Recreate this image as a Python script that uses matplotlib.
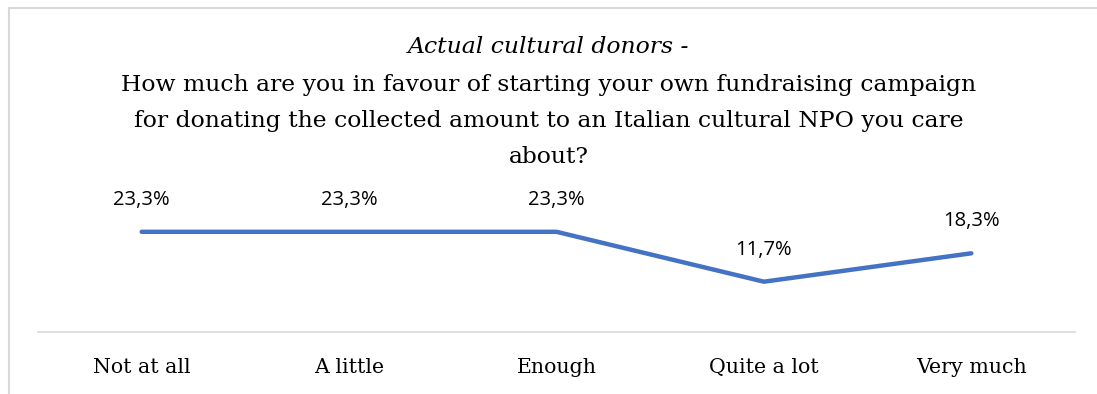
import matplotlib.pyplot as plt
from matplotlib.patches import Rectangle

categories = ['Not at all', 'A little', 'Enough', 'Quite a lot', 'Very much']
values = [23.3, 23.3, 23.3, 11.7, 18.3]
labels = ['23,3%', '23,3%', '23,3%', '11,7%', '18,3%']

W, H = 1097, 394
fig = plt.figure(figsize=(W / 100, H / 100), dpi=100)

# chart border (cut off on right and bottom like the reference)
fig.patches.append(Rectangle((9 / W, -0.1), 1.2, 1 - 8 / H + 0.1, transform=fig.transFigure,
                             fill=False, edgecolor='#D9D9D9', linewidth=1.5))

ax = fig.add_axes([38 / W, 1 - 332 / H, (1075 - 38) / W, (332 - 203) / H])
x = range(len(categories))
ax.plot(x, values, color='#4472C4', linewidth=3.2, solid_capstyle='round', solid_joinstyle='round')
for xi, v, lab in zip(x, values, labels):
    ax.annotate(lab, (xi, v), xytext=(0, 23), textcoords='offset points', ha='center', va='center',
                fontsize=14.5, family='Open Sans', color='#000000')
ax.set_xlim(-0.5, 4.5)
ax.set_ylim(0, 30)
ax.set_yticks([])
ax.set_xticks(list(x))
ax.set_xticklabels(categories, family='DejaVu Serif', fontsize=14.8)
ax.tick_params(axis='x', length=0, pad=19)
for s in ['top', 'right', 'left']:
    ax.spines[s].set_visible(False)
ax.spines['bottom'].set_color('#D9D9D9')
ax.spines['bottom'].set_linewidth(1.2)

fig.text(0.5, 1 - 47 / H, 'Actual cultural donors -', ha='center', va='center',
         family='DejaVu Serif', style='italic', fontsize=16.9)
title_lines = ['How much are you in favour of starting your own fundraising campaign',
               'for donating the collected amount to an Italian cultural NPO you care',
               'about?']
for i, line in enumerate(title_lines):
    fig.text(0.5, 1 - (85 + 36 * i) / H, line, ha='center', va='center',
             family='DejaVu Serif', fontsize=16.9)

fig.savefig('out.png', dpi=100)
